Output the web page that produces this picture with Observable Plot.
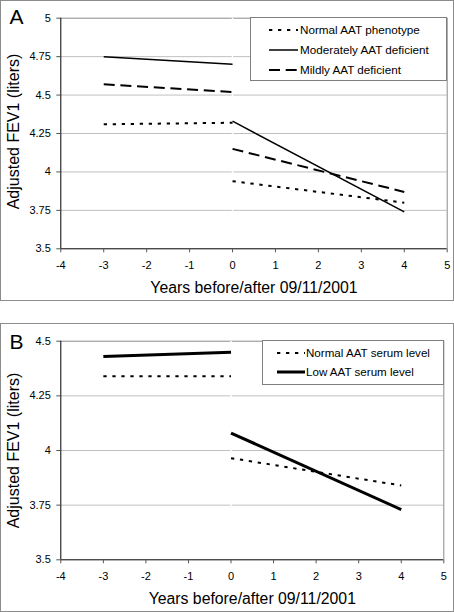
<!DOCTYPE html>
<html>
<head>
<meta charset="utf-8">
<script src="https://cdn.jsdelivr.net/npm/d3@7"></script>
<script src="https://cdn.jsdelivr.net/npm/@observablehq/plot@0.6"></script>
<style>
  body { margin: 0; background: #fff; font-family: "Liberation Sans", Arial, sans-serif; }
  #page { position: relative; width: 454px; height: 612px; overflow: hidden; }
  .panel { position: absolute; left: 0; }
  .border { position: absolute; left: 0; width: 454px; box-sizing: border-box; border: 1px solid #8c8c8c; pointer-events: none; }
  .legend { position: absolute; background: #fff; border: 1px solid #7f7f7f; box-sizing: border-box; }
  .row { position: absolute; left: 0; height: 16px; white-space: nowrap; color: #000; }
  .row svg { position: absolute; top: 0; }
  .row span { position: absolute; top: 0; line-height: 16px; font-family: "Liberation Sans", Arial, sans-serif; }
</style>
</head>
<body>
<div id="page">
  <div class="panel" id="panelA" style="top:0px"></div>
  <div class="border" style="top:0px;height:301px"></div>
  <div class="panel" id="panelB" style="top:323px"></div>
  <div class="border" style="top:323px;height:289px"></div>
</div>
<script>
// ---- Data ----
const years = [-3, 0, 0, 4];               // segment end points: before (-3..0) and after (0..4)
const segments = ["before", "before", "after", "after"];

// Panel A: AAT phenotype
const seriesA = ["Normal AAT phenotype", "Moderately AAT deficient", "Mildly AAT deficient"];
const normalPhenotype = [4.31, 4.32, 3.94, 3.80];
const moderatelyDeficient = [4.75, 4.70, 4.33, 3.74];
const mildlyDeficient = [4.57, 4.52, 4.15, 3.87];

// Panel B: AAT serum level
const seriesB = ["Normal AAT serum level", "Low AAT serum level"];
const normalSerum = [4.34, 4.34, 3.965, 3.84];
const lowSerum = [4.43, 4.45, 4.08, 3.73];

// Axes
const xTicks = [-4, -3, -2, -1, 0, 1, 2, 3, 4, 5];
const yTicksA = [3.5, 3.75, 4, 4.25, 4.5, 4.75, 5];
const yTicksB = [3.5, 3.75, 4, 4.25, 4.5];
const xTitle = "Years before/after 09/11/2001";
const yTitle = "Adjusted FEV1 (liters)";

// ---- Styles ----
const styleA = {
  "Normal AAT phenotype": {strokeWidth: 2, dash: "3.3,5.7"},
  "Moderately AAT deficient": {strokeWidth: 1.5, dash: null},
  "Mildly AAT deficient": {strokeWidth: 2, dash: "11,5.7"}
};
const styleB = {
  "Normal AAT serum level": {strokeWidth: 2, dash: "3.3,5.7"},
  "Low AAT serum level": {strokeWidth: 3, dash: null}
};

function rows(name, values) {
  return values.map((v, i) => ({name, x: years[i], y: v, seg: segments[i]}));
}

const dataA = [
  ...rows(seriesA[0], normalPhenotype),
  ...rows(seriesA[1], moderatelyDeficient),
  ...rows(seriesA[2], mildlyDeficient)
];
const dataB = [
  ...rows(seriesB[0], normalSerum),
  ...rows(seriesB[1], lowSerum)
];

function panel({data, names, styles, yTicks, height, marginRight, letter, letterDy, yTitleDy}) {
  const yDomain = [yTicks[0], yTicks[yTicks.length - 1]];
  const fmt = d => String(d);
  return Plot.plot({
    width: 454,
    height,
    marginLeft: 60.3,
    marginRight,
    marginTop: 17.7,
    marginBottom: 51.7,
    style: {fontFamily: "Liberation Sans, Arial, sans-serif", fontSize: "11px", color: "#000", background: "transparent", overflow: "visible"},
    x: {domain: [-4, 5], axis: null},
    y: {domain: yDomain, axis: null},
    marks: [
      Plot.ruleY(yTicks.slice(1, -1), {stroke: "#c0c0c0", strokeWidth: 1}),
      Plot.ruleY([yDomain[1]], {stroke: "#8a8a8a", strokeWidth: 1}),
      Plot.ruleX([5], {stroke: "#8a8a8a", strokeWidth: 1}),
      Plot.ruleX([0], {stroke: "#fff", strokeWidth: 1.5}),
      ...names.map(n => Plot.line(data.filter(d => d.name === n), {
        x: "x", y: "y", z: "seg",
        stroke: "#000",
        strokeWidth: styles[n].strokeWidth,
        strokeDasharray: styles[n].dash,
        strokeLinecap: "butt",
        strokeLinejoin: "miter"
      })),
      Plot.ruleY([yDomain[0]], {stroke: "#000", strokeWidth: 1}),
      Plot.ruleX([-4], {stroke: "#000", strokeWidth: 1}),
      Plot.axisX({ticks: xTicks, tickFormat: fmt, tickSize: 4, tickPadding: 8, fontSize: 11, label: null, stroke: "#555"}),
      Plot.axisY({ticks: yTicks, tickFormat: fmt, tickSize: 4, tickPadding: 6, fontSize: 11, label: null, stroke: "#555"}),
      Plot.text([xTitle], {frameAnchor: "bottom", textAnchor: "middle", lineAnchor: "middle", dy: 39.4, fontSize: 15.8, fill: "#000"}),
      Plot.text([yTitle], {frameAnchor: "left", textAnchor: "middle", lineAnchor: "middle", rotate: -90, dx: -47, dy: yTitleDy, fontSize: 16, fill: "#000"}),
      Plot.text([letter], {frameAnchor: "top-left", textAnchor: "start", lineAnchor: "top", dx: -51.3, dy: letterDy, fontSize: 21, fill: "#000"})
    ]
  });
}

function legend(container, {left, top, width, height, names, styles, rowTops, sampleX0, sampleX1, textX, fontSize}) {
  const box = document.createElement("div");
  box.className = "legend";
  Object.assign(box.style, {left: left + "px", top: top + "px", width: width + "px", height: height + "px"});
  names.forEach((n, i) => {
    const row = document.createElement("div");
    row.className = "row";
    row.style.top = rowTops[i] + "px";
    row.style.width = (width - 2) + "px";
    const s = styles[n];
    const svgNS = "http://www.w3.org/2000/svg";
    const svg = document.createElementNS(svgNS, "svg");
    svg.setAttribute("width", sampleX1 - sampleX0);
    svg.setAttribute("height", 16);
    svg.style.left = sampleX0 + "px";
    const ln = document.createElementNS(svgNS, "line");
    ln.setAttribute("x1", 0); ln.setAttribute("x2", sampleX1 - sampleX0);
    ln.setAttribute("y1", 8); ln.setAttribute("y2", 8);
    ln.setAttribute("stroke", "#000");
    ln.setAttribute("stroke-width", s.strokeWidth);
    if (s.dash) ln.setAttribute("stroke-dasharray", s.dash);
    svg.appendChild(ln);
    const span = document.createElement("span");
    span.textContent = n;
    span.style.left = textX + "px";
    span.style.fontSize = fontSize + "px";
    row.appendChild(svg);
    row.appendChild(span);
    box.appendChild(row);
  });
  container.appendChild(box);
}

const page = document.getElementById("page");
document.getElementById("panelA").appendChild(panel({
  data: dataA, names: seriesA, styles: styleA, yTicks: yTicksA,
  height: 300, marginRight: 7.3, letter: "A", letterDy: -9.4, yTitleDy: -2
}));
document.getElementById("panelB").appendChild(panel({
  data: dataB, names: seriesB, styles: styleB, yTicks: yTicksB,
  height: 288, marginRight: 10.7, letter: "B", letterDy: -7.4, yTitleDy: 0
}));

legend(page, {left: 250, top: 17, width: 197, height: 64, names: seriesA, styles: styleA,
  rowTops: [4.3, 24.3, 44.3], sampleX0: 18, sampleX1: 47, textX: 49, fontSize: 11.7});
legend(page, {left: 262, top: 340, width: 182, height: 45, names: seriesB, styles: styleB,
  rowTops: [3.5, 22.5], sampleX0: 14, sampleX1: 42, textX: 43, fontSize: 11.6});
</script>
</body>
</html>
